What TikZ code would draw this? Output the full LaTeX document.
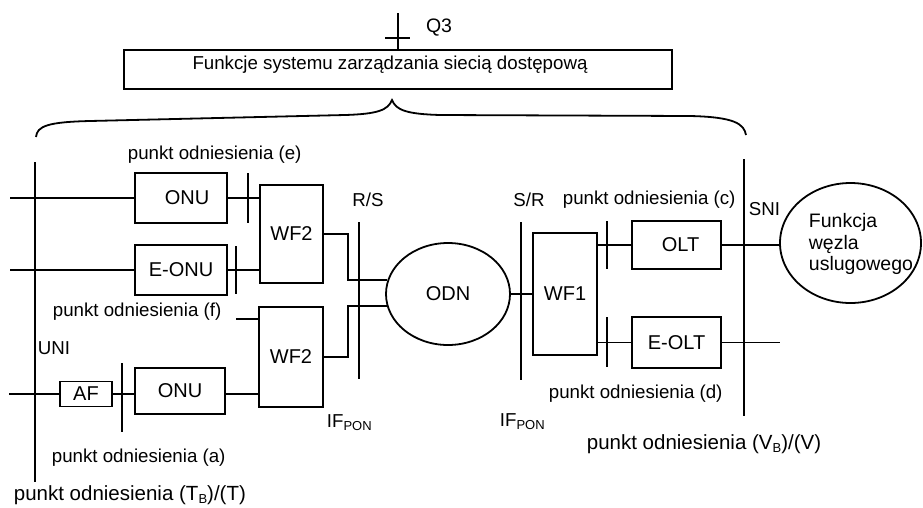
\documentclass[tikz,border=0pt]{standalone}
\usepackage{fontspec}
\setmainfont{Liberation Sans}
\usetikzlibrary{shapes.geometric}
\newcommand{\pon}{\raisebox{-0.35ex}{\fontsize{13}{13}\selectfont PON}}
\newcommand{\subB}{\raisebox{-0.35ex}{\fontsize{13}{13}\selectfont B}}
\begin{document}
\begin{tikzpicture}[x=1pt,y=-1pt, line width=1.8pt,
  lbl/.style={inner sep=0pt, anchor=west, font=\fontsize{18.7}{21}\selectfont},
  blk/.style={draw, inner sep=0pt, font=\fontsize{20}{22}\selectfont},
  big/.style={inner sep=0pt, anchor=base west, font=\fontsize{20.5}{22}\selectfont},
]
\useasboundingbox (0,0) rectangle (923,507);

% management
\node[draw, minimum width=548pt, minimum height=39pt, inner sep=0pt] (nms) at (398,69.5) {};
\node[lbl, anchor=center] (nmstxt) at (390,65) {Funkcje systemu zarządzania siecią dostępową};
\coordinate (q3top) at (398,13);
\draw (q3top) -- (nms.north);
\draw (385,38) -- (410,38);
\node[lbl, anchor=center, font=\fontsize{19.5}{21}\selectfont] (q3) at (439,28) {Q3};

% brace
\draw (36,137) .. controls (37,126) and (48,122) .. (90,121) -- (345,115)
  .. controls (378,114) and (388,110) .. (392,100)
  .. controls (396,110) and (406,114) .. (440,115) -- (690,116)
  .. controls (735,117) and (744,124) .. (746,135);

% reference lines
\draw (35,162) -- (35,482);
\draw (359,222) -- (359,379);
\draw (521,222) -- (521,380);
\draw (744,159) -- (744,416);

% blocks
\node[blk, minimum width=92pt, minimum height=50pt] (onuA) at (181,198) {\hspace{12pt}ONU};
\node[blk, minimum width=92pt, minimum height=50pt] (eonu) at (181,270) {E-ONU};
\node[blk, minimum width=63pt, minimum height=98pt] (wf2a) at (291.5,234) {WF2};
\node[blk, minimum width=64pt, minimum height=100pt] (wf2b) at (291,357) {WF2};
\node[blk, minimum width=52pt, minimum height=25pt] (af) at (86,394) {AF};
\node[blk, minimum width=90pt, minimum height=46pt] (onuB) at (180,391) {ONU};
\node[blk, ellipse, minimum width=124pt, minimum height=102pt] (odn) at (448,294) {ODN};
\node[blk, minimum width=64pt, minimum height=122pt] (wf1) at (565,294) {WF1};
\node[blk, minimum width=89pt, minimum height=48pt] (olt) at (676.5,245) {\hspace{8pt}OLT};
\node[blk, minimum width=89pt, minimum height=51pt] (eolt) at (676.5,342.5) {E-OLT};
\node[draw, ellipse, inner sep=0pt, minimum width=141pt, minimum height=120pt] (fn) at (850.5,243) {};
\node[inner sep=0pt, anchor=west, align=left, font=\fontsize{19.5}{21.5}\selectfont] (fntxt) at (808,244) {Funkcja\\węzla\\uslugowego};

% ticks
\draw (248,173) -- (248,223);
\draw (236,246) -- (236,294);
\draw (122,363) -- (122,432);
\draw (607,221) -- (607,269);
\draw (607,317) -- (607,367);

% connectors
\coordinate (inA) at (10,198);
\coordinate (inE) at (10,270);
\coordinate (inF) at (236,319);
\coordinate (inAF) at (9,394);
\coordinate (outE) at (780,342);
\draw (inA) -- (onuA);
\draw (onuA) -- (onuA -| wf2a.west);
\draw (inE) -- (eonu);
\draw (eonu) -- (eonu -| wf2a.west);
\draw (inF) -- (inF -| wf2b.west);
\draw (inAF) -- (af);
\draw (af) -- (af -| onuB.west);
\draw (af -| onuB.east) -- (af -| wf2b.west);
\draw (wf2a.east) -- ++(24,0) |- (odn.167);
\draw (wf2b.east) -- ++(24,0) |- (odn.191);
\draw (odn.east) -- (odn.east -| wf1.west);
\draw (olt.west -| wf1.east) -- (olt.west);
\draw (eolt.west -| wf1.east) -- (eolt.west);
\draw (olt.east) -- (olt.east -| fn.west);
\draw (eolt) -- (eolt -| outE);

% labels
\node[lbl] (le) at (127,155) {punkt odniesienia (e)};
\node[lbl, anchor=center] (lrs) at (368,200) {R/S};
\node[lbl, anchor=center] (lsr) at (529,200) {S/R};
\node[lbl] (lc) at (562,200) {punkt odniesienia (c)};
\node[lbl] (lsni) at (748,209) {SNI};
\node[lbl] (lf) at (52,312) {punkt odniesienia (f)};
\node[lbl] (luni) at (37,348) {UNI};
\node[lbl, anchor=base west] (lif1) at (326,427) {IF\pon};
\node[lbl, anchor=base west] (lif2) at (499,426) {IF\pon};
\node[lbl] (la) at (51,458) {punkt odniesienia (a)};
\node[lbl] (ld) at (548,394) {punkt odniesienia (d)};
\node[big] (ltb) at (13,500) {punkt odniesienia (T\subB)/(T)};
\node[big] (lvb) at (586,449) {punkt odniesienia (V\subB)/(V)};
\end{tikzpicture}
\end{document}
